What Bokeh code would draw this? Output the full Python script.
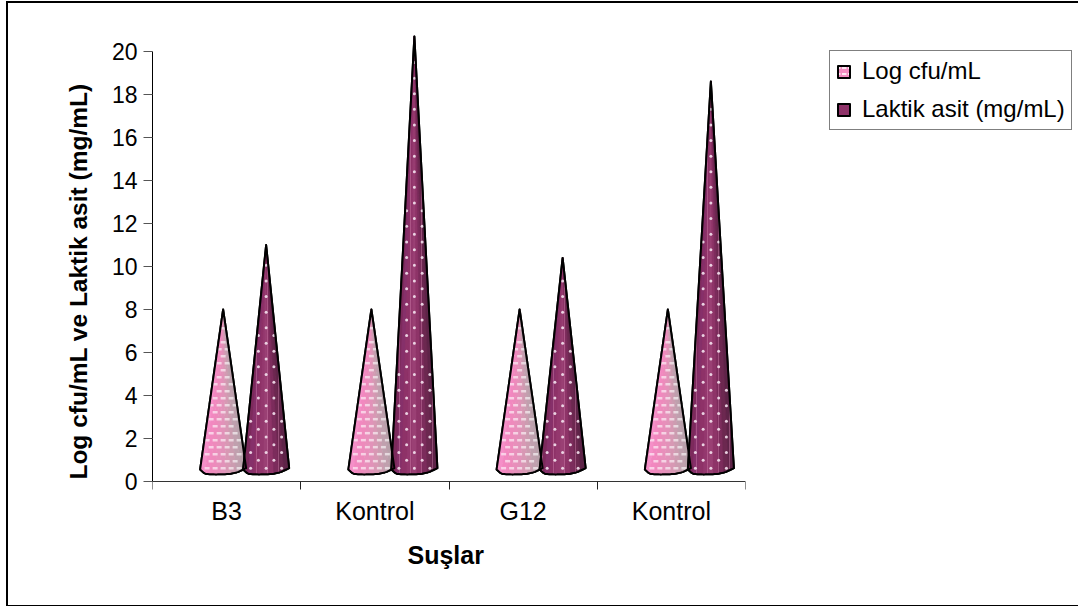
from bokeh.plotting import figure
from bokeh.embed import file_html
from bokeh.resources import INLINE
from bokeh.models import FixedTicker, Legend, LegendItem, LinearAxis, Range1d, Title

categories = ["B3", "Kontrol", "G12", "Kontrol"]
log_cfu = [8.0, 8.0, 8.0, 8.0]
laktik_asit = [11.0, 20.7, 10.4, 18.6]
y_ticks = [0, 2, 4, 6, 8, 10, 12, 14, 16, 18, 20]

FONT = "Liberation Sans"
PPU = 148.25  # px per category
PPV = 21.5    # px per value unit
HALF = 23 / PPU
PROFILE = [(-1.0, 0.56), (-0.78, 0.35), (-0.3, 0.33), (0.3, 0.35), (0.65, 0.44), (1.0, 0.62)]
LIGHT = ["#f58fc8", "#f288c0", "#ee8abc", "#e88fbb", "#e292b9", "#d898b4", "#cc9cb0", "#c0a0ae", "#b8a0aa"]
DARK = ["#7c2a5c", "#86306a", "#8e3268", "#94386e", "#9a4074", "#8e3468", "#7c2c5c", "#6c2850", "#5e2448"]


def base_point(u):
    for (u0, v0), (u1, v1) in zip(PROFILE, PROFILE[1:]):
        if u <= u1:
            return v0 + (v1 - v0) * (u - u0) / (u1 - u0)
    return PROFILE[-1][1]


def cone(cx, h, n=24):
    us = [-1 + 2 * k / n for k in range(n + 1)]
    return [cx + u * HALF for u in us] + [cx], [base_point(u) for u in us] + [h]


def wedges(cx, h, colors):
    n = len(colors)
    xs, ys = [], []
    for k in range(n):
        u0, u1 = -1 + 2 * k / n, -1 + 2 * (k + 1) / n
        xs.append([cx, cx + u0 * HALF, cx + (u0 + u1) / 2 * HALF, cx + u1 * HALF])
        ys.append([h, base_point(u0), base_point((u0 + u1) / 2), base_point(u1)])
    return xs, ys


def texture(cx, h, dx_px, dy_px, inset=0.9):
    """Staggered decoration grid clipped to the inside of a cone."""
    xs, ys = [], []
    row = 0
    y = 0.62
    while y < h - 0.6:
        half = HALF * (1 - (y - 0.4) / (h - 0.4)) * inset
        k = -6
        while k <= 6:
            x = (k + (0.5 if row % 2 else 0)) * dx_px / PPU
            if abs(x) < half:
                xs.append(cx + x)
                ys.append(y)
            k += 1
        y += dy_px / PPV
        row += 1
    return xs, ys


p = figure(width=1070, height=602, frame_width=593, frame_height=502, output_backend="svg", toolbar_location=None,
           x_range=Range1d(0, 4), y_range=Range1d(-51 / PPV, 451 / PPV),
           min_border_left=144, min_border_right=0, min_border_top=27, min_border_bottom=73,
           x_axis_location=None, y_axis_location=None, background_fill_color="white",
           border_fill_color="white", outline_line_color=None,
           styles={"position": "absolute", "left": "6px", "top": "1px", "box-sizing": "content-box",
                   "border-left": "2px solid black", "border-top": "2px solid black",
                   "border-bottom": "1.5px solid black"})
p.grid.visible = False

xaxis = LinearAxis(ticker=FixedTicker(ticks=[i + 0.5 for i in range(4)], minor_ticks=[0, 1, 2, 3, 4]),
                   fixed_location=0,
                   major_label_overrides={i + 0.5: c for i, c in enumerate(categories)},
                   major_label_text_font=FONT, major_label_text_font_size="25px", major_label_text_color="black",
                   major_label_standoff=7, major_tick_in=0, major_tick_out=0,
                   minor_tick_in=0, minor_tick_out=8, minor_tick_line_color="#222222",
                   axis_line_color="#333333", axis_line_width=1.2)
p.add_layout(xaxis, "below")
p.add_layout(Title(text="Suşlar", align="left", offset=255, standoff=13, text_font=FONT, text_font_style="bold",
                   text_font_size="25px", text_color="black"), "below")
yaxis = LinearAxis(ticker=FixedTicker(ticks=y_ticks), bounds=(0, 20),
                   axis_label="Log cfu/mL ve Laktik asit (mg/mL)", axis_label_text_font=FONT,
                   axis_label_text_font_style="bold", axis_label_text_font_size="24.5px",
                   axis_label_standoff=17, axis_label_text_color="black",
                   major_label_text_font=FONT, major_label_text_font_size="23px", major_label_standoff=6,
                   major_label_text_color="black",
                   major_tick_in=0, major_tick_out=9, major_tick_line_color="#555555",
                   minor_tick_line_color=None, axis_line_color="black")
p.add_layout(yaxis, "left")


def draw(values, offset, colors, fill, legend_hatch):
    bx, by, wx, wy, wc = [], [], [], [], []
    centres = []
    for i, v in enumerate(values):
        cx = i + 0.5 + offset
        centres.append((cx, v))
        x, y = cone(cx, v)
        bx.append(x)
        by.append(y)
        a, b = wedges(cx, v, colors)
        wx += a
        wy += b
        wc += colors
    base = p.patches(bx, by, fill_color=fill, line_color="black", line_width=2, line_join="round", **legend_hatch)
    p.patches(wx, wy, fill_color=wc, line_color=wc, line_width=0.5)
    return base, bx, by, centres


r_light, lx, ly, lc = draw(log_cfu, -3.5 / PPU, LIGHT, "#f28cc0",
                           dict(hatch_pattern="horizontal_dash", hatch_color="white", hatch_scale=6,
                                hatch_weight=2, hatch_alpha=0.8))
r_dark, dx, dy, dc = draw(laktik_asit, 39.5 / PPU, DARK, "#8e3268", {})

for cx, v in lc:
    tx, ty = texture(cx, v, 8, 7)
    p.scatter(tx, ty, marker="dash", size=5, line_color="white", line_width=2.5, line_alpha=0.6)
p.patches(dx, dy, fill_color=None, line_color=None, hatch_pattern="vertical_line", hatch_color="#d080ac",
          hatch_scale=11, hatch_weight=0.8, hatch_alpha=0.55)
for cx, v in dc:
    tx, ty = texture(cx, v, 15.5, 7.8)
    p.scatter(tx, ty, marker="circle", size=3, fill_color="#f4e2ee", line_color=None, fill_alpha=0.9)

p.patches(lx, ly, fill_color=None, line_color="black", line_width=2, line_join="round")
p.patches(dx, dy, fill_color=None, line_color="black", line_width=2, line_join="round")

legend = Legend(items=[LegendItem(label="Log cfu/mL", renderers=[r_light]),
                       LegendItem(label="Laktik asit (mg/mL)", renderers=[r_dark])],
                location=(84, 402), orientation="vertical", margin=0, padding=6, spacing=10,
                glyph_width=15, glyph_height=15, label_standoff=11, label_height=24,
                label_text_font=FONT, label_text_font_size="24px", label_text_color="black",
                border_line_color="black", border_line_width=1, background_fill_color="white",
                background_fill_alpha=1)
p.add_layout(legend, "right")

open("out.html", "w").write(file_html(p, INLINE))
